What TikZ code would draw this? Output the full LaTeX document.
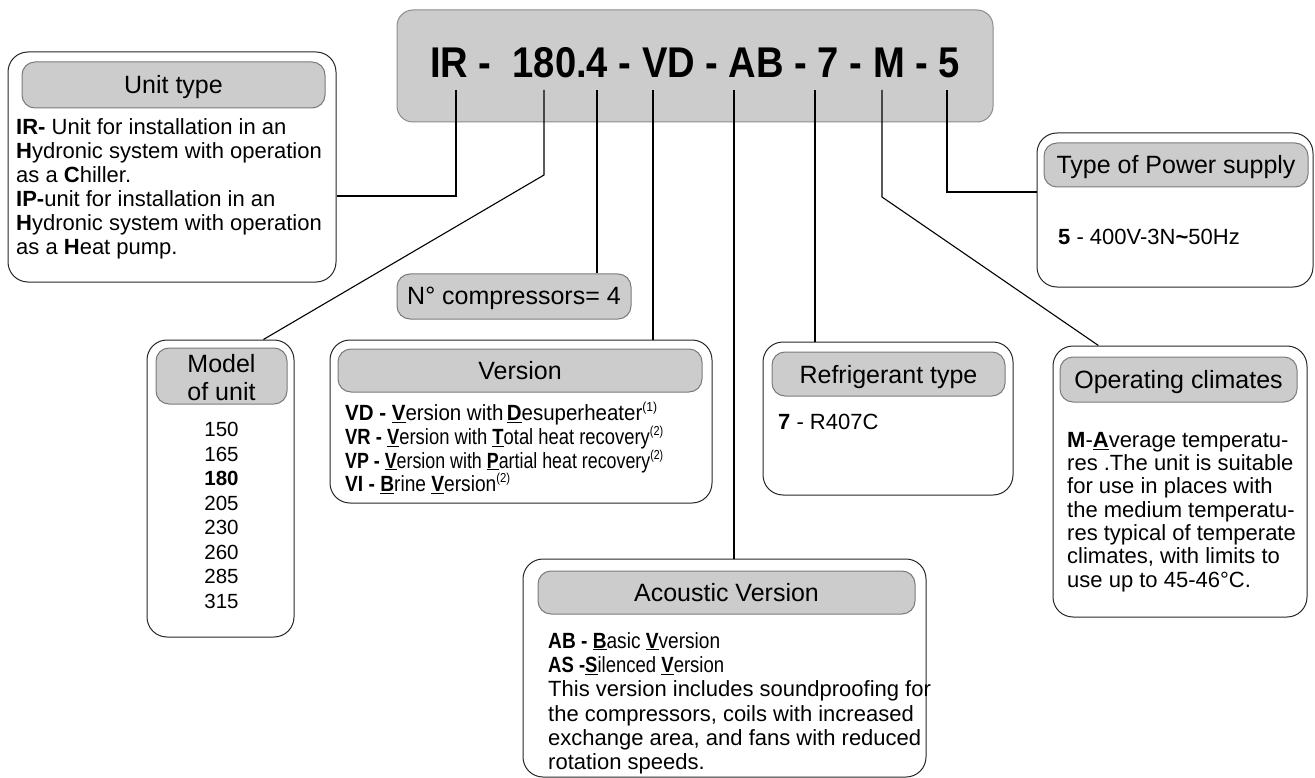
\documentclass[tikz,border=0pt]{standalone}
\usepackage{fontspec}
\setmainfont{Liberation Sans}
\usepackage{graphicx}
\usetikzlibrary{fit,calc}
\newcommand\sq[2]{\resizebox{#1}{\height}{#2}}
\newcommand\sups[1]{\raisebox{0.42em}{\fontsize{13}{13}\selectfont #1}}
\definecolor{pillgray}{HTML}{CCCCCC}
\definecolor{pilledge}{HTML}{7A7A7A}
\tikzset{
  outerbox/.style={draw=black!85, line width=1pt, rounded corners=20pt, inner sep=0pt},
  pill/.style={draw=pilledge, line width=1pt, fill=pillgray, rounded corners=13pt, inner sep=0pt},
  conn/.style={draw=black, line width=1.1pt},
  hdr/.style={font=\fontsize{25}{28}\selectfont, inner sep=0pt, anchor=base},
  body/.style={font=\fontsize{22}{23.3}\selectfont, inner sep=0pt, align=left, anchor=north west},
}
\begin{document}
\begin{tikzpicture}[x=1pt,y=-1pt]
\useasboundingbox (0,0) rectangle (1315,778);
% title
\node[pill, draw=black!45, rounded corners=16pt, fit={(397,10) (993,122)}] (title) {};
\node[inner sep=0pt, font=\fontsize{43}{43}\selectfont\bfseries] (code) at (695,63)
  {\sq{530pt}{IR -\ \ 180.4 - VD - AB - 7 - M - 5}};
% tick starts
\coordinate (sIR) at (456,90);
\coordinate (s180) at (544,90);
\coordinate (s4) at (597,90);
\coordinate (sVD) at (653,90);
\coordinate (sAB) at (734,90);
\coordinate (s7) at (815,90);
\coordinate (sM) at (882,90);
\coordinate (s5) at (947,90);
% Unit type
\node[outerbox, fit={(8,52) (336,282)}] (ut) {};
\node[pill, fit={(22,62) (325,108)}] (utp) {};
\node[hdr] (uth) at (173.5,94) {Unit type};
\node[body, font=\fontsize{22}{24}\selectfont] (utb) at (16,118) {\textbf{IR-} Unit for installation in an\\
\textbf{H}ydronic system with operation\\
as a \textbf{C}hiller.\\
\textbf{IP-}unit for installation in an\\
\textbf{H}ydronic system with operation\\
as a \textbf{H}eat pump.};
% Model
\node[outerbox, fit={(147,340) (294,637)}] (mod) {};
\node[pill, fit={(156,348) (287,404)}] (modp) {};
\node[inner sep=0pt, align=center, anchor=north, font=\fontsize{25}{28}\selectfont] (modh) at (221.5,354) {Model\\of unit};
\node[inner sep=0pt, align=center, anchor=north, font=\fontsize{20.5}{24.5}\selectfont] (modb) at (221.5,422)
  {150\\165\\\textbf{180}\\205\\230\\260\\285\\315};
% N compressors
\node[pill, fit={(397,274) (631,319)}] (ncp) {};
\node[hdr] (nch) at (514,305) {N° compressors= 4};
% Version
\node[outerbox, fit={(330,340) (712,503)}] (ver) {};
\node[pill, fit={(338,349) (702,392)}] (verp) {};
\node[hdr] (verh) at (520,379.5) {Version};
\node[body, font=\fontsize{22}{23.7}\selectfont] (verb) at (345,402) {%
\sq{312pt}{\textbf{VD - \underline{V}}ersion with\,\textbf{\underline{D}}esuperheater\sups{(1)}}\\
\sq{318pt}{\textbf{VR - \underline{V}}ersion with \textbf{\underline{T}}otal heat recovery\sups{(2)}}\\
\sq{318pt}{\textbf{VP - \underline{V}}ersion with \textbf{\underline{P}}artial heat recovery\sups{(2)}}\\
\sq{165pt}{\textbf{VI - \underline{B}}rine \textbf{\underline{V}}ersion\sups{(2)}}};
% Refrigerant
\node[outerbox, fit={(763,342) (1013,495)}] (ref) {};
\node[pill, fit={(772,352) (1005,396)}] (refp) {};
\node[hdr] (refh) at (888.5,383) {Refrigerant type};
\node[body] (refb) at (778,414) {\textbf{7} - R407C};
% Operating climates
\node[outerbox, fit={(1053,346) (1307,617)}] (oc) {};
\node[pill, fit={(1060,357) (1297,402)}] (ocp) {};
\node[hdr] (och) at (1178.5,388.5) {Operating climates};
\node[body] (ocb) at (1067,432) {\textbf{M}-\textbf{\underline{A}}verage temperatu-\\
res .The unit is suitable\\
for use in places with\\
the medium temperatu-\\
res typical of temperate\\
climates, with limits to\\
use up to 45-46°C.};
% Power supply
\node[outerbox, fit={(1037,133) (1313,287)}] (pw) {};
\node[pill, fit={(1044,143) (1308,187)}] (pwp) {};
\node[hdr] (pwh) at (1176,174) {Type of Power supply};
\node[body] (pwb) at (1058,229) {\textbf{5} - 400V-3N\textbf{\textasciitilde}50Hz};
% Acoustic
\node[outerbox, fit={(523,559) (926,777)}] (ac) {};
\node[pill, fit={(538,571) (915,614)}] (acp) {};
\node[hdr] (ach) at (726.5,601.5) {Acoustic Version};
\node[body, font=\fontsize{22}{24.3}\selectfont] (acb) at (548,632) {%
\sq{172pt}{\textbf{AB - \underline{B}}asic \textbf{\underline{V}}version}\\
\sq{176pt}{\textbf{AS -\underline{S}}ilenced \textbf{\underline{V}}ersion}\\
This version includes soundproofing for\\
the compressors, coils with increased\\
exchange area, and fans with reduced\\
rotation speeds.};
% connectors
\coordinate (kIR) at (456,196);
\draw[conn] (sIR) -- (kIR) -- (kIR -| ut.east);
\coordinate (k180) at (544,175);
\draw[conn] (s180) -- (k180) -- ($(mod.north west)!0.79!(mod.north east)$);
\draw[conn] (s4) -- (s4 |- ncp.north);
\draw[conn] (sVD) -- (sVD |- ver.north);
\draw[conn] (sAB) -- (sAB |- ac.north);
\draw[conn] (s7) -- (s7 |- ref.north);
\coordinate (kM) at (882,197);
\draw[conn] (sM) -- (kM) -- ($(oc.north west)!0.18!(oc.north east)$);
\coordinate (k5) at (947,192);
\draw[conn] (s5) -- (k5) -- (k5 -| pw.west);
\end{tikzpicture}
\end{document}
